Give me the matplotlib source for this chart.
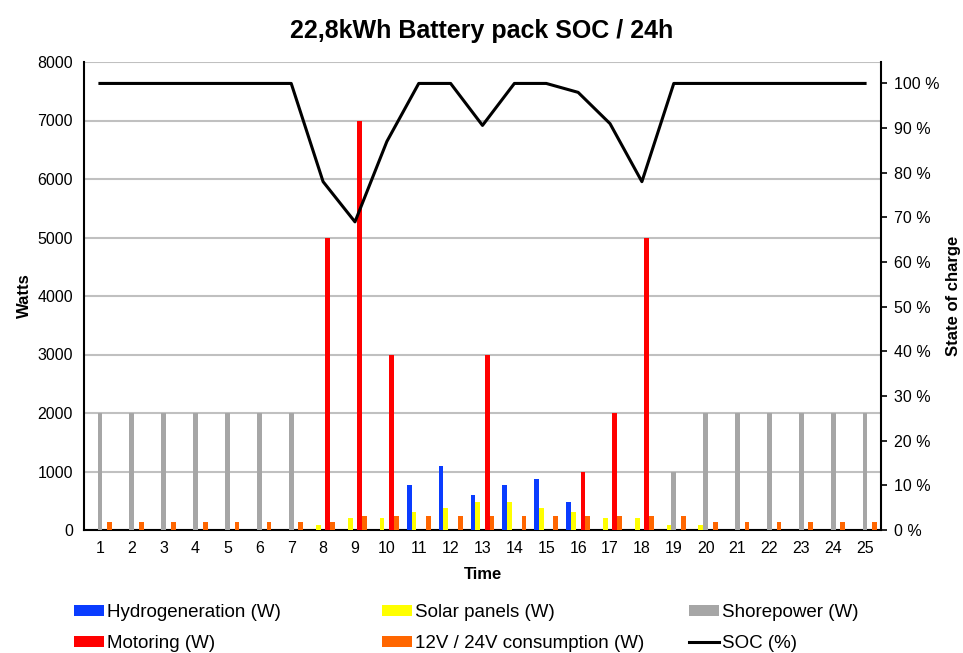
# 22,8kWh battery pack SOC over 24h
import matplotlib.pyplot as plt
import numpy as np

plt.rcParams['font.family'] = ['Liberation Sans', 'DejaVu Sans']

# Data
hours = list(range(1, 26))
hydro = [0, 0, 0, 0, 0, 0, 0, 0, 0, 0, 770, 1100, 590, 770, 870, 480, 0, 0, 0, 0, 0, 0, 0, 0, 0]
solar = [0, 0, 0, 0, 0, 0, 0, 90, 200, 200, 300, 370, 480, 480, 370, 300, 200, 200, 90, 90, 0, 0, 0, 0, 0]
shore = [2000, 2000, 2000, 2000, 2000, 2000, 2000, 0, 0, 0, 0, 0, 0, 0, 0, 0, 0, 0, 1000, 2000, 2000, 2000, 2000, 2000, 2000]
motoring = [0, 0, 0, 0, 0, 0, 0, 5000, 7000, 3000, 0, 0, 3000, 0, 0, 1000, 2000, 5000, 0, 0, 0, 0, 0, 0, 0]
consumption = [140, 140, 140, 140, 140, 140, 140, 140, 240, 240, 240, 240, 240, 240, 240, 240, 240, 240, 240, 140, 140, 140, 140, 140, 140]
soc = [100, 100, 100, 100, 100, 100, 100, 78, 69, 87, 100, 100, 90.6, 100, 100, 98, 91, 78, 100, 100, 100, 100, 100, 100, 100]

series = [hydro, solar, shore, motoring, consumption]
names = ['Hydrogeneration (W)', 'Solar panels (W)', 'Shorepower (W)', 'Motoring (W)', '12V / 24V consumption (W)']
colors = ['#0a3cff', '#ffff00', '#a6a6a6', '#ff0000', '#ff6600']

fig = plt.figure(figsize=(9.63, 6.53), dpi=100)
ax = fig.add_axes([84 / 963, 123 / 653, 797 / 963, 468 / 653])

x = np.array(hours)
w = 0.15
bars = []
for i, (vals, name, c) in enumerate(zip(series, names, colors)):
    b = ax.bar(x + (i - 2) * w, vals, width=w, color=c, label=name, zorder=3)
    bars.append(b)

ax.set_xlim(0.5, 25.5)
ax.set_ylim(0, 8000)
ax.set_yticks(range(0, 8001, 1000))
ax.set_xticks(hours)
ax.grid(axis='y', color='#c0c0c0', linewidth=1.5, zorder=0)
ax.tick_params(axis='both', length=0, labelsize=11.5, pad=8)
ax.spines['top'].set_visible(False)
ax.spines['right'].set_visible(False)
ax.spines['left'].set_linewidth(1.5)
ax.spines['bottom'].set_linewidth(1.5)
ax.set_xlabel('Time', fontsize=12, fontweight='bold', labelpad=8)
ax.set_ylabel('Watts', fontsize=12, fontweight='bold', labelpad=4)

ax2 = ax.twinx()
line, = ax2.plot(x, np.array(soc) / 100, color='black', linewidth=2.2, label='SOC (%)', zorder=4)
ax2.set_ylim(0, 1.048)
ax2.set_yticks(np.arange(0, 1.01, 0.1))
ax2.set_yticklabels([f'{int(round(v * 100))} %' for v in np.arange(0, 1.01, 0.1)])
ax2.tick_params(axis='y', length=4, width=1.2, labelsize=11.5, pad=5)
for s in ['top', 'left', 'bottom']:
    ax2.spines[s].set_visible(False)
ax2.spines['right'].set_linewidth(1.5)
ax2.set_ylabel('State of charge', fontsize=12, fontweight='bold', labelpad=5)

fig.text(0.5, (653 - 31) / 653, '22,8kWh Battery pack SOC / 24h', fontsize=18, fontweight='bold',
         ha='center', va='center')

# legend: one small legend per column so the columns sit where they do in the original
cols = [([bars[0], bars[3]], [names[0], names[3]], 74),
        ([bars[1], bars[4]], [names[1], names[4]], 382),
        ([bars[2], line], [names[2], 'SOC (%)'], 689)]
for handles, labels, xpos in cols:
    leg = fig.legend(handles, labels, loc='upper left', bbox_to_anchor=(xpos / 963, (653 - 604) / 653),
                     frameon=False, fontsize=13.5, handlelength=1.6, handleheight=0.5,
                     handletextpad=0.15, labelspacing=0.75, borderpad=0, borderaxespad=0)

plt.savefig('out.png', dpi=100)
